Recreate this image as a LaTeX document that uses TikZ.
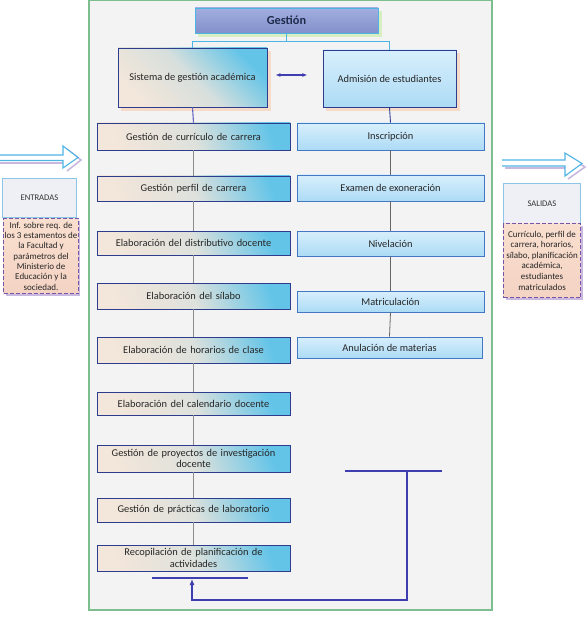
\documentclass[tikz,border=0pt]{standalone}
\usepackage{fontspec}
\setmainfont{Carlito}
\usetikzlibrary{arrows.meta,positioning,calc}
\definecolor{framegreen}{HTML}{7DBE8E}
\definecolor{framebg}{HTML}{F3F3F3}
\definecolor{navy}{HTML}{2E3C8E}
\definecolor{peach}{HTML}{F3E6DA}
\definecolor{cyanx}{HTML}{63C4E8}
\definecolor{lbtop}{HTML}{D8EFFC}
\definecolor{lbbot}{HTML}{ACDBF5}
\definecolor{rborder}{HTML}{4478C4}
\definecolor{gtop}{HTML}{A2AEE0}
\definecolor{gbot}{HTML}{8290CC}
\definecolor{gtext}{HTML}{1F2A4A}
\definecolor{skyline}{HTML}{4DB4E4}
\definecolor{grayline}{HTML}{8C8C8C}
\definecolor{fbblue}{HTML}{3E3EB0}
\definecolor{purpdash}{HTML}{7656A8}
\definecolor{lavender}{HTML}{C9B8E0}
\definecolor{peachbox}{HTML}{F9DFCF}
\definecolor{peachbox2}{HTML}{F4D3C3}
\definecolor{shadowpeach}{HTML}{F6DCC8}
\definecolor{shadowgreen}{HTML}{D6EEC0}
\definecolor{iobox}{HTML}{EEF0F6}
\definecolor{ioborder}{HTML}{8CC6E6}
\tikzset{
  boxfont/.style={font=\fontsize{10.4}{11.6}\selectfont, text=black!85},
  lbox/.style={draw=navy, line width=0.8pt, top color=cyanx, bottom color=peach, middle color=peach!85!cyanx, shading angle=-70,
    minimum width=193pt, text width=189pt, align=center, inner sep=1pt, boxfont},
  rbox/.style={draw=rborder, line width=0.8pt, top color=lbtop, bottom color=lbbot,
    minimum width=187pt, align=center, inner sep=1pt, boxfont},
  lconn/.style={draw=grayline, line width=1.4pt},
  rconn/.style={draw=black!60, line width=0.8pt},
  fb/.style={draw=fbblue, line width=1.1pt},
  iotitle/.style={draw=ioborder, line width=0.8pt, fill=iobox, minimum width=74pt, minimum height=39pt, inner sep=0pt, font=\fontsize{8.6}{9}\selectfont, text=black!80},
  iodash/.style={draw=purpdash, dashed, dash pattern=on 4pt off 2pt, line width=1.1pt, top color=peachbox, bottom color=peachbox2,
    minimum width=75pt, inner sep=0pt, align=center, font=\fontsize{9}{10.3}\selectfont, text=black!85},
  bigarrow/.style={draw=skyline, line width=1.1pt, fill=white},
  arrowshadow/.style={draw=lavender, line width=1.6pt},
}
\begin{document}
\begin{tikzpicture}[x=1pt,y=-1pt]
\useasboundingbox (0,0) rectangle (588,631);
% main frame
\draw[framegreen, line width=1.2pt, fill=framebg] (89,0.8) rectangle (492,610);

% Gestion
\fill[shadowgreen] (198,11) rectangle (382,37);
\node[draw=skyline, line width=0.8pt, top color=gtop, bottom color=gbot, minimum width=183pt, minimum height=25pt, inner sep=0pt,
  font=\fontsize{12.3}{13}\selectfont\bfseries, text=gtext] (g) at (286.5,20.5) {Gestión};

% Sistema and Admision
\fill[shadowpeach] (121,51) rectangle (271,111);
\node[draw=navy, line width=0.8pt, top color=cyanx, bottom color=peach, middle color=peach!80!cyanx, shading angle=-45,
  minimum width=149pt, minimum height=59pt, inner sep=0pt, boxfont] (sis) at (192.5,77.5) {Sistema de gestión académica};
\fill[shadowpeach] (326,53) rectangle (460,111);
\node[draw=navy, line width=0.8pt, top color=lbtop, bottom color=lbbot,
  minimum width=133pt, minimum height=57pt, inner sep=0pt, boxfont] (adm) at (389.5,78.5) {Admisión de estudiantes};
\draw[fbblue, line width=1.1pt, {Latex[length=5pt,width=4pt]}-{Latex[length=5pt,width=4pt]}] (sis.east) ++(8,-2.5) coordinate (da) -- ++(32,0) coordinate (db);

% Gestion connectors
\draw[skyline, line width=0.9pt] (g.south) -- ++(0,8) -| (sis.north);
\draw[skyline, line width=0.9pt] (g.south) -- ++(0,8) -| (adm.north);

% left column
\node[lbox, minimum height=27pt] (l1) at (193.5,136.5) {Gestión de currículo de carrera};
\node[lbox, minimum height=25pt] (l2) at (193.5,188.5) {Gestión perfil de carrera};
\node[lbox, minimum height=24pt] (l3) at (193.5,243) {Elaboración del distributivo docente};
\node[lbox, minimum height=26pt] (l4) at (193.5,296) {Elaboración del sílabo};
\node[lbox, minimum height=26pt] (l5) at (193.5,350) {Elaboración de horarios de clase};
\node[lbox, minimum height=23pt] (l6) at (193.5,403.5) {Elaboración del calendario docente};
\node[lbox, minimum height=27pt] (l7) at (193.5,458.5) {Gestión de proyectos de investigación\\docente};
\node[lbox, minimum height=24pt] (l8) at (193.5,510) {Gestión de prácticas de laboratorio};
\node[lbox, minimum height=26pt] (l9) at (193.5,558) {Recopilación de planificación de\\actividades};

\draw[draw=fbblue!80, line width=1.1pt] (sis.south) -- (l1.north);
\foreach \a/\b in {l1/l2,l2/l3,l3/l4,l4/l5,l5/l6,l6/l7,l7/l8,l8/l9}
  \draw[lconn] (\a.south) -- (\b.north);

% right column
\node[rbox, minimum height=27pt] (r1) at (390.5,136.5) {Inscripción};
\node[rbox, minimum height=26pt] (r2) at (390.5,188) {Examen de exoneración};
\node[rbox, minimum height=25pt] (r3) at (390.5,243.5) {Nivelación};
\node[rbox, minimum height=21pt] (r4) at (390.5,301.5) {Matriculación};
\node[rbox, minimum height=21pt, minimum width=185pt] (r5) at (389.5,347.5) {Anulación de materias};

\draw[draw=navy, line width=0.9pt] (adm.south) -- (r1.north);
\foreach \a/\b in {r1/r2,r2/r3,r3/r4,r4/r5}
  \draw[rconn] (\a.south) -- (\b.north);

% feedback
\coordinate (bl1) at (152,578);
\coordinate (bl2) at (248,578);
\coordinate (barr) at (192,579);
\coordinate (fb0) at (192,600);
\coordinate (fb1) at (407,600);
\coordinate (fb2) at (407,471);
\coordinate (br1) at (345,471);
\coordinate (br2) at (442,471);
\draw[fb] (bl1) -- (bl2);
\draw[fb] (br1) -- (br2);
\draw[fb, -{Latex[length=6pt,width=5pt]}] (fb2) -- (fb1) -- (fb0) -- (barr);

% ENTRADAS
\draw[arrowshadow] (0,163) -- (67,163) (67,149) -- (81,160) -- (67,171);
\draw[bigarrow] (0,155) -- (63,155) -- (63,146) -- (78,157.5) -- (63,168) -- (63,160.5) -- (0,160.5);
\node[iotitle, anchor=north west] (ent) at (2,178) {ENTRADAS};
\fill[lavender] (6,221) rectangle (80,296);
\node[iodash, minimum height=75pt, anchor=north west] (entd) at (3,218) {Inf. sobre req. de\\los 3 estamentos de\\la Facultad y\\parámetros del\\Ministerio de\\Educación y la\\sociedad.};

% SALIDAS
\draw[arrowshadow] (505,168) -- (568,168) (568,157) -- (585,167) -- (568,179);
\draw[bigarrow] (502,160) -- (565,160) -- (565,153) -- (582,163.5) -- (565,176) -- (565,166) -- (502,166);
\node[iotitle, minimum width=77pt, minimum height=40pt, anchor=north west] (sal) at (503,183) {SALIDAS};
\fill[lavender] (506,226) rectangle (583,300);
\node[iodash, minimum width=77pt, minimum height=74pt, anchor=north west, font=\fontsize{9}{10.6}\selectfont] (sald) at (503,223) {Currículo, perfil de\\carrera, horarios,\\sílabo, planificación\\académica,\\estudiantes\\matriculados};
\end{tikzpicture}
\end{document}
